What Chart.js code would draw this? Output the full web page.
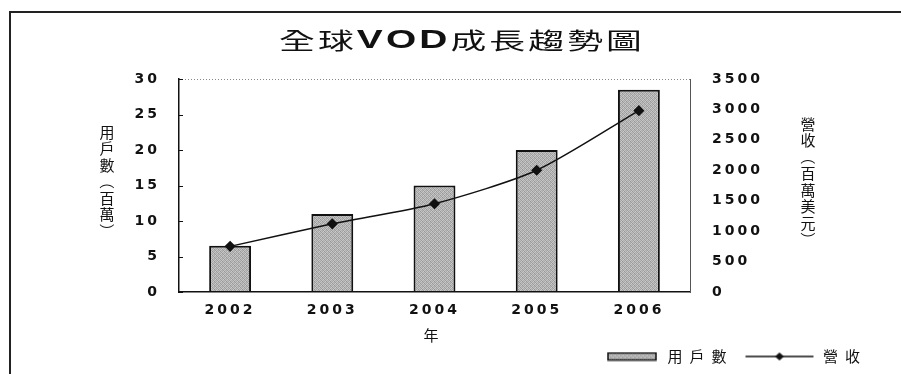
<!DOCTYPE html>
<html><head><meta charset="utf-8">
<script src="https://cdn.jsdelivr.net/npm/chart.js@4/dist/chart.umd.min.js"></script>
<style>html,body{margin:0;padding:0;background:#fff}#wrap{width:901px;height:374px;position:relative}canvas{display:block}</style>
</head><body><div id="wrap"><canvas id="c" width="901" height="374"></canvas></div>
<script>
// ---- data ----
const chartTitle = ['全球', 'VOD', '成長趨勢圖'];
const years = ['2002', '2003', '2004', '2005', '2006'];
const users = [6.5, 11, 15, 20, 28.5];          // 用戶數 (百萬)
const revenue = [750, 1120, 1450, 2000, 2980];  // 營收 (百萬美元)
const userTicks = [0, 5, 10, 15, 20, 25, 30];
const revenueTicks = [0, 500, 1000, 1500, 2000, 2500, 3000, 3500];
const seriesNames = ['用戶數', '營收'];
const xTitle = '年';
const leftTitle = '用戶數（百萬）';
const rightTitle = '營收（百萬美元）';

// ---- styling helpers ----
const canvas = document.getElementById('c');
const mainCtx = canvas.getContext('2d');
const CJK = '"Noto Sans CJK TC", "Noto Sans CJK SC", sans-serif';
const NUM = '"DejaVu Sans", sans-serif';

const grays = [[188,158,200,172],[166,202,148,192],[198,174,182,156],[152,192,166,206]];
function makeTile() {
  const t = document.createElement('canvas'); t.width = 4; t.height = 4;
  const g = t.getContext('2d');
  grays.forEach((row, y) => row.forEach((v, x) => { g.fillStyle = `rgb(${v},${v},${v})`; g.fillRect(x, y, 1, 1); }));
  return t;
}
const tile = makeTile();
const barPattern = mainCtx.createPattern(tile, 'repeat');

function barIcon() {
  const c = document.createElement('canvas'); c.width = 72; c.height = 10;
  const g = c.getContext('2d');
  g.fillStyle = g.createPattern(tile, 'repeat');
  g.fillRect(20, 1.5, 48, 7);
  g.strokeStyle = '#111'; g.lineWidth = 1.5; g.strokeRect(20, 1.5, 48, 7);
  return c;
}
function lineIcon() {
  const c = document.createElement('canvas'); c.width = 72; c.height = 10;
  const g = c.getContext('2d');
  g.strokeStyle = '#111'; g.lineWidth = 1.5;
  g.beginPath(); g.moveTo(2, 5); g.lineTo(70, 5); g.stroke();
  g.fillStyle = '#111';
  g.beginPath(); g.moveTo(36, 1); g.lineTo(40.5, 5); g.lineTo(36, 9); g.lineTo(31.5, 5); g.closePath(); g.fill();
  return c;
}
const legendIcons = [barIcon(), lineIcon()];

// stacked vertical text; brackets are turned a quarter turn like vertical forms
function drawVertical(ctx, text, x, y0, pitch, font) {
  ctx.save();
  ctx.font = font; ctx.fillStyle = '#111'; ctx.textAlign = 'center'; ctx.textBaseline = 'middle';
  ctx.letterSpacing = '0px';
  [...text].forEach((ch, i) => {
    const y = y0 + i * pitch;
    if (ch === '（' || ch === '）' || ch === '(' || ch === ')') {
      ctx.save(); ctx.translate(x, y); ctx.rotate(Math.PI / 2);
      ctx.fillText(ch, 0, 0); ctx.restore();
    } else {
      ctx.fillText(ch, x, y);
    }
  });
  ctx.restore();
}

const decor = {
  id: 'decor',
  beforeLayout(chart) { chart.ctx.letterSpacing = '7px'; },
  beforeDraw(chart) { chart.ctx.letterSpacing = '7px'; },
  beforeDatasetsDraw(chart) {
    const ctx = chart.ctx, a = chart.chartArea;
    ctx.save();
    ctx.strokeStyle = '#888'; ctx.lineWidth = 1; ctx.setLineDash([1, 2]);
    ctx.beginPath(); ctx.moveTo(a.left, a.top + 0.5); ctx.lineTo(a.right, a.top + 0.5); ctx.stroke();
    ctx.restore();
    ctx.letterSpacing = '3px';
  },
  afterDraw(chart) {
    const ctx = chart.ctx;
    ctx.save();
    ctx.letterSpacing = '0px';
    // outer frame
    ctx.strokeStyle = '#222'; ctx.lineWidth = 2;
    ctx.beginPath(); ctx.moveTo(10, 374); ctx.lineTo(10, 12); ctx.lineTo(901, 12); ctx.stroke();
    // inner ticks on left axis
    const ys = chart.scales.y;
    ctx.strokeStyle = '#111'; ctx.lineWidth = 1;
    ctx.beginPath();
    ys.ticks.forEach(t => {
      const py = Math.round(ys.getPixelForValue(t.value)) + 0.5;
      ctx.moveTo(ys.right, py); ctx.lineTo(ys.right + 4, py);
    });
    ctx.stroke();
    // title
    const fonts = ['23px ' + CJK, 'bold 25px "Liberation Sans", Arial, sans-serif', '23px ' + CJK];
    ctx.letterSpacing = '2px';
    const widths = chartTitle.map((s, i) => { ctx.font = fonts[i]; return ctx.measureText(s).width; });
    const total = widths.reduce((p, q) => p + q, 0);
    const target = 366, cx = 462, cy = 40;
    const sx = target / total;
    ctx.translate(cx - target / 2, cy); ctx.scale(sx, 1);
    ctx.fillStyle = '#111'; ctx.textBaseline = 'middle'; ctx.textAlign = 'left';
    let x = 0;
    chartTitle.forEach((s, i) => { ctx.font = fonts[i]; ctx.fillText(s, x, i === 1 ? 1 : 0); x += widths[i]; });
    ctx.restore();
    // vertical axis titles
    drawVertical(ctx, leftTitle, 107, 132, 16.5, '15px ' + CJK);
    drawVertical(ctx, rightTitle, 808, 124, 16.5, '15px ' + CJK);
  }
};

const tickFont = { family: NUM, size: 14, weight: 'bold' };

new Chart(mainCtx, {
  data: {
    labels: years,
    datasets: [
      { type: 'bar', label: seriesNames[0], data: users, yAxisID: 'y',
        backgroundColor: barPattern, borderColor: '#111', borderWidth: 2,
        barPercentage: 0.41, categoryPercentage: 1, order: 1 },
      { type: 'line', label: seriesNames[1], data: revenue, yAxisID: 'y1',
        borderColor: '#111', borderWidth: 1.5, tension: 0.25,
        pointStyle: 'rectRot', pointRadius: 4.5, pointBackgroundColor: '#111', pointBorderColor: '#111',
        order: 0 }
    ]
  },
  options: {
    responsive: false, animation: false,
    layout: { padding: { left: 10, right: 24, top: 79, bottom: 0 } },
    plugins: {
      title: { display: false },
      tooltip: { enabled: false },
      legend: {
        position: 'bottom', align: 'end',
        labels: {
          usePointStyle: true, pointStyleWidth: 72, padding: 10,
          color: '#111', font: { family: CJK, size: 15 },
          generateLabels: (chart) => chart.data.datasets.map((ds, i) => ({
            text: ds.label, pointStyle: legendIcons[i], fillStyle: 'transparent',
            strokeStyle: 'transparent', lineWidth: 1, hidden: false, datasetIndex: i, fontColor: '#111'
          }))
        }
      }
    },
    scales: {
      x: {
        offset: true,
        grid: { display: false, drawTicks: false },
        border: { display: true, color: '#111', width: 1.5, z: 1 },
        ticks: { color: '#111', font: tickFont, padding: 10, z: 1, maxRotation: 0 },
        title: { display: true, text: xTitle, color: '#111', font: { family: CJK, size: 15 }, padding: { top: 0, bottom: -5 } },
        afterFit: s => { s.height = 47; }
      },
      y: {
        position: 'left', min: 0, max: 30,
        grid: { display: false, drawTicks: false },
        border: { display: true, color: '#111', width: 1.5, z: 1 },
        ticks: { color: '#111', font: tickFont, padding: 19, z: 1 },
        afterBuildTicks: s => { s.ticks = userTicks.map(v => ({ value: v })); },
        afterFit: s => { s.width = 169; }
      },
      y1: {
        position: 'right', min: 0, max: 3500,
        grid: { display: false, drawTicks: false },
        border: { display: true, color: '#555', width: 1, dash: [2, 2], z: 1 },
        ticks: { color: '#111', font: tickFont, padding: 22, z: 1, callback: v => String(v) },
        afterBuildTicks: s => { s.ticks = revenueTicks.map(v => ({ value: v })); },
        afterFit: s => { s.width = 187; }
      }
    }
  },
  plugins: [decor]
});
</script>
</body></html>
